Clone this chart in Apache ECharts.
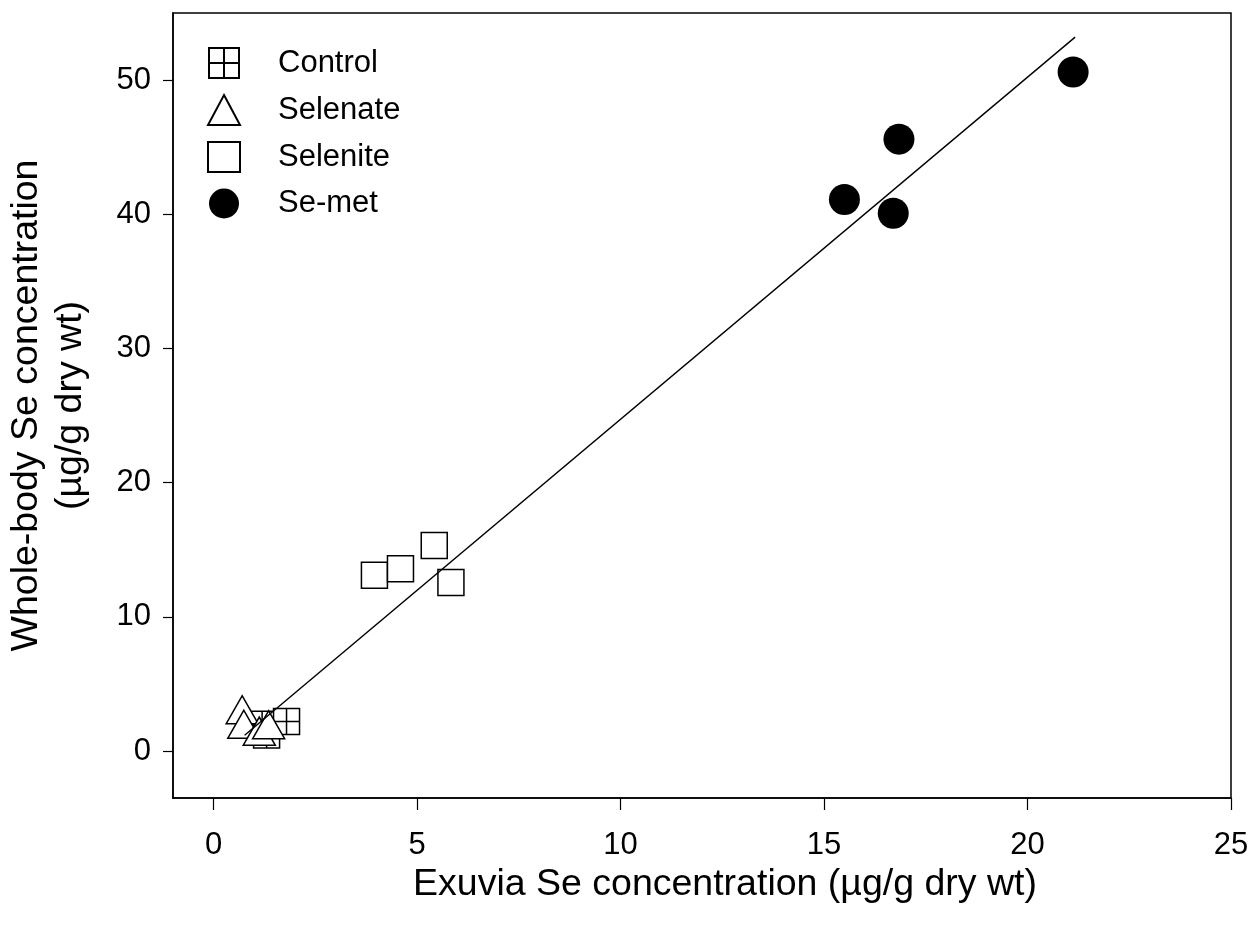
<!DOCTYPE html>
<html>
<head>
<meta charset="utf-8">
<script src="https://cdn.jsdelivr.net/npm/echarts@6/dist/echarts.min.js"></script>
<style>
  html, body { margin: 0; padding: 0; background: #ffffff; }
  #chart { width: 1255px; height: 928px; }
</style>
</head>
<body>
<div id="chart"></div>
<script>
// Whole-body vs exuvia Se concentration by treatment (µg/g dry wt)
const controlPts  = [[1.19, 2.0], [1.30, 1.2], [1.79, 2.2]];
const selenatePts = [[0.70, 3.08], [0.74, 2.0], [1.12, 1.48], [1.35, 1.96]];
const selenitePts = [[3.95, 13.1], [4.59, 13.58], [5.42, 15.32], [5.83, 12.56]];
const semetPts    = [[15.50, 41.1], [16.70, 40.08], [16.84, 45.6], [21.12, 50.6]];
// regression line end points
const fitLine = [[0.76, 1.17], [21.17, 53.2]];

const xTicks = [0, 5, 10, 15, 20, 25];
const yTicks = [0, 10, 20, 30, 40, 50];
const seriesNames = ['Control', 'Selenate', 'Selenite', 'Se-met'];

const FONT = "'Liberation Sans', Arial, sans-serif";
const crossSquare = 'path://M0,0H20V20H0Z M10,0V20 M0,10H20';

const openStyle = { color: '#ffffff', borderColor: '#000000', borderWidth: 1.5, opacity: 1 };

const chart = echarts.init(document.getElementById('chart'), null, { renderer: 'canvas' });

chart.setOption({
  backgroundColor: '#ffffff',
  animation: false,
  textStyle: { fontFamily: FONT, color: '#000000' },
  grid: {
    left: 173, right: 24, top: 13, bottom: 130,
    containLabel: false, outerBoundsMode: 'none',
    show: true, borderColor: '#000000', borderWidth: 1.5, backgroundColor: 'transparent'
  },
  legend: {
    data: seriesNames,
    orient: 'vertical',
    left: 207, top: 47, padding: 0,
    itemWidth: 32, itemHeight: 30, itemGap: 15,
    selectedMode: false,
    textStyle: { fontFamily: FONT, fontSize: 31, color: '#000000', padding: [0, 0, 0, 33] }
  },
  xAxis: {
    type: 'value', min: -1, max: 25,
    name: 'Exuvia Se concentration (µg/g dry wt)',
    nameLocation: 'middle', nameGap: 68, nameMoveOverlap: false,
    nameTextStyle: { fontFamily: FONT, fontSize: 37.5, color: '#000000', padding: [0, 0, 0, 46] },
    splitLine: { show: false },
    axisLine: { show: true, onZero: false, lineStyle: { color: '#000000', width: 1.5 } },
    axisTick: { show: true, inside: false, length: 12, customValues: xTicks, lineStyle: { color: '#000000', width: 1.2 } },
    axisLabel: { customValues: xTicks, fontFamily: FONT, fontSize: 31, color: '#000000', margin: 32 }
  },
  yAxis: {
    type: 'value', min: -3.5, max: 55,
    name: 'Whole-body Se concentration\n(µg/g dry wt)',
    nameLocation: 'middle', nameGap: 80, nameRotate: 90, nameMoveOverlap: false,
    nameTextStyle: { fontFamily: FONT, fontSize: 37.5, color: '#000000', lineHeight: 44, align: 'center' },
    splitLine: { show: false },
    axisLine: { show: true, onZero: false, lineStyle: { color: '#000000', width: 1.5 } },
    axisTick: { show: true, inside: false, length: 10, customValues: yTicks, lineStyle: { color: '#000000', width: 1.2 } },
    axisLabel: { customValues: yTicks, fontFamily: FONT, fontSize: 31, color: '#000000', margin: 22 }
  },
  series: [
    {
      name: 'Control', type: 'scatter', data: controlPts,
      symbol: crossSquare, symbolSize: 26, itemStyle: openStyle, z: 2
    },
    {
      name: 'Selenate', type: 'scatter', data: selenatePts,
      symbol: 'triangle', symbolSize: [32, 28], itemStyle: openStyle, z: 3
    },
    {
      name: 'Selenite', type: 'scatter', data: selenitePts,
      symbol: 'rect', symbolSize: 26, itemStyle: openStyle, z: 3
    },
    {
      name: 'Se-met', type: 'scatter', data: semetPts,
      symbol: 'circle', symbolSize: 31,
      itemStyle: { color: '#000000', borderColor: '#000000', borderWidth: 0, opacity: 1 }, z: 3
    },
    {
      name: 'fit', type: 'line', data: fitLine,
      showSymbol: false, symbol: 'none', silent: true,
      lineStyle: { color: '#000000', width: 1.4 }, z: 10
    }
  ]
});
</script>
</body>
</html>
